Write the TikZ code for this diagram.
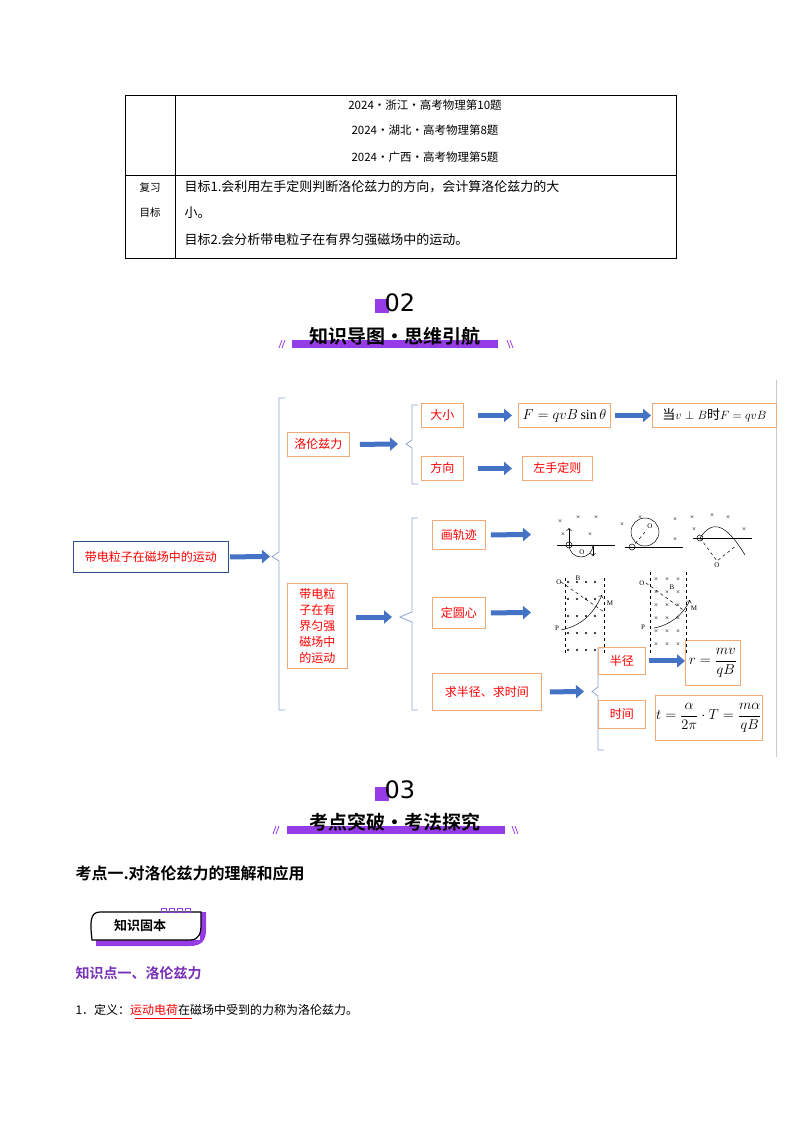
\documentclass[tikz,border=0pt]{standalone}
\usepackage{amsmath}
\usepackage{fontspec}
\setmainfont{Liberation Serif}
\newfontfamily\cjk{Noto Sans CJK SC}
\newfontfamily\cjkb{Noto Sans CJK SC Bold}
\usetikzlibrary{arrows.meta}
\definecolor{pur}{RGB}{150,60,230}
\definecolor{barblue}{RGB}{68,114,196}
\definecolor{boxor}{RGB}{240,170,120}
\definecolor{brblue}{RGB}{140,165,210}
\tikzset{
 rbox/.style={draw=boxor,line width=0.8pt,text=red,font=\cjk\fontsize{12}{14}\selectfont,inner sep=0pt,anchor=north west},
 fbox/.style={draw=boxor,line width=0.8pt,inner sep=0pt,anchor=north west,font=\fontsize{14}{16}\selectfont},
 barrow/.style={barblue,line width=5pt,-{Triangle[length=8pt,width=13pt]}},
 brace/.style={brblue,line width=0.8pt},
 tt/.style={font=\cjk\fontsize{11.5}{13}\selectfont},
}
\begin{document}
\begin{tikzpicture}[x=1pt,y=-1pt]
\useasboundingbox (0,0) rectangle (800,1132);
\fill[white] (0,0) rectangle (800,1132);
% table
\draw[line width=0.7pt] (125,95) rectangle (676,258);
\draw[line width=0.7pt] (175,95) -- (175,258) (125,175) -- (676,175);
\node[tt] (t1) at (425,105) {2024·浙江·高考物理第10题};
\node[tt] (t2) at (425,130) {2024·湖北·高考物理第8题};
\node[tt] (t3) at (425,157) {2024·广西·高考物理第5题};
\node[tt,font=\cjk\fontsize{10.5}{12}\selectfont] (fx) at (150,188) {复习};
\node[tt,font=\cjk\fontsize{10.5}{12}\selectfont] (mb) at (150,213) {目标};
\node[tt,anchor=west,font=\cjk\fontsize{13}{15}\selectfont] (g1) at (181,187) {目标1.会利用左手定则判断洛伦兹力的方向，会计算洛伦兹力的大};
\node[tt,anchor=west,font=\cjk\fontsize{13}{15}\selectfont] (g1b) at (181,213) {小。};
\node[tt,anchor=west,font=\cjk\fontsize{13}{15}\selectfont] (g2) at (181,240) {目标2.会分析带电粒子在有界匀强磁场中的运动。};
% header 02
\fill[pur] (375,299) rectangle (389,313);
\node[font=\fontspec{DejaVu Sans}\fontsize{24}{26}\selectfont] (n02) at (400,303) {02};
\fill[pur] (292,340) rectangle (498,348);
\node[font=\cjkb\fontsize{19}{21}\selectfont] (h2) at (395,336) {知识导图·思维引航};
\draw[pur,line width=0.8pt] (279,348)--(282,340) (282,348)--(285,340) (507,340)--(510,348) (510,340)--(513,348);
% mind map
\draw[gray!40,line width=1pt] (776,380) -- (776,757);
\node[draw=barblue!70!black,line width=0.8pt,text=red,font=\cjk\fontsize{12}{14}\selectfont,minimum width=155pt,minimum height=31pt,inner sep=0pt,anchor=north west] (root) at (73,541) {带电粒子在磁场中的运动};
\coordinate (b1) at (270,556.5);
\draw[brace] (285,398) -- (279,398) -- (279,552) -- (272,556.5) -- (279,561) -- (279,710) -- (285,710);
\draw[barrow] ([xshift=1pt]root.east) -- (b1);
\node[rbox,minimum width=62pt,minimum height=24pt] (lz) at (287,432) {洛伦兹力};
\coordinate (b2) at (398,444);
\draw[brace] (418,405) -- (412,405) -- (412,440) -- (406,444) -- (412,448) -- (412,484) -- (418,484);
\draw[barrow] ([xshift=10pt]lz.east) -- (b2);
\node[rbox,minimum width=42pt,minimum height=24pt] (dx) at (421,403) {大小};
\node[fbox,minimum width=92pt,minimum height=24pt] (F) at (518,403) {$F=qvB\sin\theta$};
\node[fbox,minimum width=124pt,minimum height=24pt,font=\cjk\fontsize{13}{15}\selectfont] (F2) at (652,403) {当$v\perp B$时$F=qvB$};
\draw[barrow] ([xshift=14pt]dx.east) -- ([xshift=-6pt]F.west |- dx.east);
\draw[barrow] ([xshift=4pt]F.east) -- ([xshift=-1pt]F2.west);
\node[rbox,minimum width=42pt,minimum height=24pt] (fx2) at (421,456) {方向};
\node[rbox,minimum width=70pt,minimum height=24pt] (zs) at (522,456) {左手定则};
\draw[barrow] ([xshift=14pt]fx2.east) -- ([xshift=-10pt]zs.west);
\node[rbox,minimum width=60pt,minimum height=85pt,align=left,font=\cjk\fontsize{12}{16}\selectfont] (dd) at (287,583) {带电粒\\子在有\\界匀强\\磁场中\\的运动};
\coordinate (b3) at (392,617);
\draw[brace] (418,518) -- (412,518) -- (412,612) -- (400,617) -- (412,622) -- (412,710) -- (418,710);
\draw[barrow] ([xshift=8pt]dd.east |- b3) -- (b3);
\node[rbox,minimum width=53pt,minimum height=29pt] (gj) at (432,520) {画轨迹};
\coordinate (p1) at (531,534.5);
\draw[barrow] ([xshift=5pt]gj.east) -- (p1);
\node[rbox,minimum width=53pt,minimum height=31pt] (dy) at (432,597) {定圆心};
\coordinate (p2) at (531,612.5);
\draw[barrow] ([xshift=5pt]dy.east) -- (p2);
\node[rbox,minimum width=109pt,minimum height=37pt] (qb) at (432,673) {求半径、求时间};
\coordinate (b4) at (584,691.5);
\draw[brace] (604,648) -- (598,648) -- (598,687) -- (592,691.5) -- (598,696) -- (598,750) -- (604,750);
\draw[barrow] ([xshift=8pt]qb.east) -- (b4);
\node[rbox,minimum width=47pt,minimum height=27pt] (bj) at (598,647) {半径};
\node[fbox,minimum width=55pt,minimum height=45pt] (rr) at (685,640) {$r=\dfrac{mv}{qB}$};
\draw[barrow] ([xshift=3pt]bj.east) -- (rr.west |- bj.east);
\node[rbox,minimum width=47pt,minimum height=28pt] (sj) at (598,700) {时间};
\node[fbox,minimum width=107pt,minimum height=45pt] (tt) at (655,695) {$t=\dfrac{\alpha}{2\pi}\cdot T=\dfrac{m\alpha}{qB}$};
% small diagrams row 1
\begin{scope}[line width=0.5pt,font=\fontsize{7}{7}\selectfont]
\draw (557,545)--(615,545); \draw (569,545) circle (3); \draw (569,545) arc (180:0:12); \draw[->] (593,545)--(593,556);
\draw[->] (569,545)--(569,528);
\foreach \p in {(560,522),(578,518),(596,518),(563,535),(590,535)} \node at \p {×};
\node at (582,552) {O};
\draw (625,547)--(683,547); \draw (632,547) circle (3); \draw (645,532) circle (14);\draw[dashed] (645,532)--(634,545);
\foreach \p in {(622,525),(675,520),(675,540),(640,518)} \node at \p {×};
\node at (650,526) {O};
\draw (693,538)--(752,538); \draw (700,538) circle (3); \draw (700,538) .. controls (712,520) and (725,522) .. (745,555);\draw[dashed](700,538)--(717,561)--(737,545);
\foreach \p in {(692,518),(712,516),(728,518),(694,530),(744,530)} \node at \p {×};
\node at (717,565) {O};
% row 2
\draw[dashed] (565,578)--(565,655) (604,578)--(604,655);
\foreach \i in {0,...,4} \foreach \j in {0,...,3} \fill (568+\j*9,582+\i*17) circle (1.2);
\draw[->] (561,630) .. controls (585,625) and (595,610) .. (602,595);
\draw[dashed] (561,582) -- (604,612);
\node at (559,582) {O}; \node at (557,628) {P}; \node at (578,578) {B}; \node at (610,603) {M};
\draw[dashed] (650,572)--(650,655) (686,572)--(686,655);
\foreach \i in {0,...,5} \foreach \j in {0,...,2} \node at (656+\j*11,580+\i*13) {×};
\draw[->] (654,628) .. controls (670,625) and (683,615) .. (690,600);
\draw[dashed] (646,583) -- (686,612);
\node at (642,583) {O}; \node at (643,627) {P}; \node[fill=white,inner sep=0.5pt] at (672,587) {B}; \node at (694,608) {M};
\end{scope}
% header 03
\fill[pur] (375,787) rectangle (389,801);
\node[font=\fontspec{DejaVu Sans}\fontsize{24}{26}\selectfont] (n03) at (400,790) {03};
\fill[pur] (287,826) rectangle (505,834);
\node[font=\cjkb\fontsize{19}{21}\selectfont] (h3) at (395,822) {考点突破·考法探究};
\draw[pur,line width=0.8pt] (273,834)--(276,826) (276,834)--(279,826) (512,826)--(515,834) (515,826)--(518,834);
% section
\node[anchor=west,font=\cjkb\fontsize{16}{18}\selectfont] (k1) at (72,873) {考点一.对洛伦兹力的理解和应用};
\fill[pur] (96,924) -- (96,946) -- (190,946) .. controls (202,946) and (206,940) .. (206,930) -- (206,912) -- (200,912) -- (200,940) -- (96,940) -- cycle;
\draw[line width=1.2pt,fill=white] (100,912) .. controls (90,912) and (90,922) .. (92,940) -- (190,940) .. controls (200,940) and (201,932) .. (201,924) -- (201,912) -- cycle;
\foreach \x in {161,169,177,185} \draw[pur,line width=1pt] (\x,908) rectangle ++(5,4);
\node[font=\cjkb\fontsize{13}{15}\selectfont] (zs2) at (140,926) {知识固本};
\node[anchor=west,font=\cjkb\fontsize{14}{16}\selectfont,text=pur!80!black] (zd) at (72,973) {知识点一、洛伦兹力};
\node[anchor=west,font=\cjk\fontsize{12}{14}\selectfont] (dy1) at (72,1010) {1．定义：\textcolor{red}{运动电荷}在磁场中受到的力称为洛伦兹力。};
\draw[red,line width=0.5pt] (135,1018)--(192,1018);
\end{tikzpicture}
\end{document}
